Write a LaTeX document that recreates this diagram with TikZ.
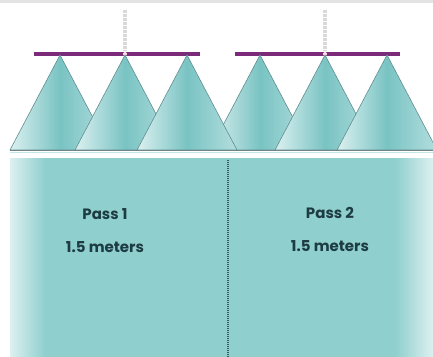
\documentclass[tikz,border=0pt]{standalone}
\usepackage{fontspec}
\setmainfont{Poppins}
\usepackage{xcolor}
\usepackage{tikz}
\usetikzlibrary{positioning}
\definecolor{fieldteal}{HTML}{8FCFCE}
\definecolor{conemid}{HTML}{79C3C3}
\definecolor{paleteal}{HTML}{DCF0F0}
\definecolor{coneedge}{HTML}{5F8E90}
\definecolor{boompurple}{HTML}{7B2B79}
\definecolor{labelink}{HTML}{1D3B42}
\begin{document}
\begin{tikzpicture}[x=1pt, y=-1pt,
  cone/.style={draw=coneedge, line width=0.6pt, left color=paleteal, right color=paleteal!60!conemid, middle color=conemid},
  boom/.style={draw=boompurple, line width=3.2pt},
  hose/.style={draw=gray!30, line width=4pt, dash pattern=on 2.5pt off 1.5pt},
  passlabel/.style={font=\bfseries\fontsize{15}{17}\selectfont, text=labelink, inner sep=1pt}]
\useasboundingbox (0,0) rectangle (433,356);
\fill[gray!22] (0,0) rectangle (433,3);
% field strip
\fill[fieldteal] (10,158) rectangle (433,357);
\shade[left color=paleteal, right color=fieldteal] (10,158) rectangle (45,357);
\shade[left color=fieldteal, right color=paleteal] (395,158) rectangle (433,357);
\draw[paleteal!70!fieldteal, line width=1pt] (10,152.5) -- (433,152.5);
% hoses and booms
\draw[hose] (125,10) -- (125,51);
\draw[hose] (325,10) -- (325,51);
\draw[boom] (34,54) -- (200,54);
\draw[boom] (235,54) -- (400,54);
\fill[pink!40] (125,54) circle (2pt);
\fill[pink!40] (325,54) circle (2pt);
% spray cones
\foreach \x in {60,125,260,187,325,387}
  \shadedraw[cone] (\x,55) -- (\x-50,150) -- (\x+50,150) -- cycle;
\draw[gray!60!coneedge, line width=0.6pt] (10,150) -- (433,150);
% pass divider
\draw[labelink!80!fieldteal, line width=1.2pt, dash pattern=on 0.8pt off 1.2pt] (228,160) -- (228,357);
\node[passlabel] (pass1) at (105,214) {Pass 1};
\node[passlabel, below=33pt of pass1.center, anchor=center] (width1) {1.5 meters};
\node[passlabel] (pass2) at (330,213) {Pass 2};
\node[passlabel, below=33pt of pass2.center, anchor=center] (width2) {1.5 meters};
\end{tikzpicture}
\end{document}
